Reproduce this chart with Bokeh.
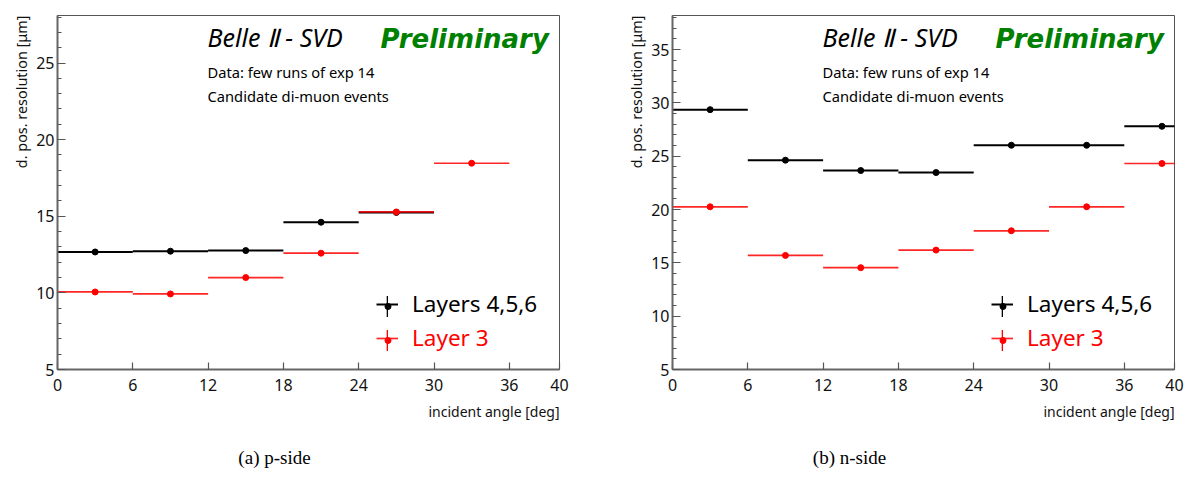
from bokeh.plotting import figure
from bokeh.models import Range1d, FixedTicker, Label, Legend, LegendItem, ColumnDataSource, Title
from bokeh.layouts import row, column
from bokeh.embed import file_html
from bokeh.resources import INLINE

# ---------------- data ----------------
BIN_WIDTH = 6
x_ticks = [0, 6, 12, 18, 24, 30, 36, 40]

# (a) p-side
p_black_lo = [0, 6, 12, 18, 24]
p_black_val = [12.67, 12.72, 12.76, 14.61, 15.25]
p_red_lo = [0, 6, 12, 18, 24, 30]
p_red_val = [10.06, 9.93, 11.00, 12.59, 15.28, 18.46]
p_yrange = (5, 28.1)
p_yticks = [5, 10, 15, 20, 25]

# (b) n-side
n_black_lo = [0, 6, 12, 18, 24, 30, 36]
n_black_val = [29.37, 24.63, 23.66, 23.47, 26.03, 26.03, 27.81]
n_red_lo = [0, 6, 12, 18, 24, 30, 36]
n_red_val = [20.26, 15.70, 14.55, 16.20, 18.01, 20.26, 24.32]
n_yrange = (5, 38.2)
n_yticks = [5, 10, 15, 20, 25, 30, 35]

series_labels = ["Layers 4,5,6", "Layer 3"]
series_colors = ["black", "red"]
captions = ["(a) p-side", "(b) n-side"]
ylabel = "d. pos. resolution [\u03bcm]"
xlabel = "incident angle [deg]"
header = "Belle \u2161 - SVD"
prelim = "Preliminary"
info = ["Data: few runs of exp 14", "Candidate di-muon events"]

FONT = "Noto Sans"
PLOT_H = 430


def src(lo, val):
    return ColumnDataSource(dict(
        lo=lo, hi=[v + BIN_WIDTH for v in lo],
        mid=[v + BIN_WIDTH / 2 for v in lo], val=val))


def panel(bl, bv, rl, rv, yr, yt, width, right_border):
    p = figure(width=width, height=PLOT_H, x_range=Range1d(0, 40), y_range=Range1d(*yr),
               output_backend="svg", toolbar_location=None,
               min_border_left=57, min_border_right=right_border,
               min_border_top=15, min_border_bottom=PLOT_H - 15 - 354)
    p.grid.visible = False
    p.outline_line_color = "#555555"
    p.outline_line_width = 1
    p.background_fill_color = "white"
    p.border_fill_color = "white"
    for ax in (p.xaxis[0], p.yaxis[0]):
        ax.axis_line_color = "#666666"
        ax.axis_line_width = 2
        ax.major_tick_line_color = "#555555"
        ax.minor_tick_line_color = "#555555"
        ax.major_tick_line_width = 1.2
        ax.major_label_text_font = FONT
        ax.major_label_text_font_size = "16px"
        ax.major_label_text_color = "#111111"
        ax.major_tick_out = 0
        ax.minor_tick_out = 0
    p.xaxis.ticker = FixedTicker(ticks=x_ticks, minor_ticks=[])
    p.xaxis.major_tick_in = 7
    p.xaxis.major_label_standoff = 9
    p.yaxis.ticker = FixedTicker(ticks=yt, minor_ticks=list(range(int(yr[0]), int(yr[1]) + 1)))
    p.yaxis.major_tick_in = 8
    p.yaxis.minor_tick_in = 4
    p.yaxis.major_label_standoff = 3

    common = dict(padding=0, margin=0, spacing=0, glyph_height=26, label_height=26,
                  label_standoff=14, label_text_font=FONT, label_text_font_size="22.5px",
                  border_line_alpha=0, background_fill_alpha=0)

    for lo, val, color, lw, alpha, label, ybot in [
            (bl, bv, series_colors[0], 2, 1.0, series_labels[0], 50),
            (rl, rv, series_colors[1], 1.7, 0.85, series_labels[1], 16)]:
        s = src(lo, val)
        seg = p.segment(x0="lo", x1="hi", y0="val", y1="val", source=s, line_color=color,
                        line_width=lw, line_alpha=alpha)
        p.scatter(x="mid", y="val", source=s, size=6, color=color)
        # legend keys only: zero-size glyphs on the same data (vertical error-bar stroke, small dot)
        vk = p.vbar(x="mid", top="val", bottom="val", width=0, source=s, fill_color=color, line_alpha=0)
        dk = p.scatter(x="mid", y="val", source=s, size=0, color=color)
        p.add_layout(Legend(items=[LegendItem(label=label, renderers=[seg])],
                            location=(319, ybot), glyph_width=22, label_text_color=color,
                            **common), "center")
        p.add_layout(Legend(items=[LegendItem(label=" ", renderers=[vk])],
                            location=(329, ybot), glyph_width=2, **common), "center")
        p.add_layout(Legend(items=[LegendItem(label=" ", renderers=[dk])],
                            location=(322.5, ybot), glyph_width=15, **common), "center")

    def lab(text, x, y, size, color="black", style="normal"):
        p.add_layout(Label(x=x, y=y, x_units="screen", y_units="screen", text=text,
                           text_font=FONT, text_font_size=size, text_color=color,
                           text_font_style=style, text_baseline="middle"))

    lab(header, 150, 333, "25px", style="italic")
    p.add_layout(Label(x=323, y=331, x_units="screen", y_units="screen", text=prelim,
                       text_font="DejaVu Sans", text_font_size="26px", text_color="#008000",
                       text_font_style="bold italic", text_baseline="middle"))
    lab(info[0], 150, 298, "14.7px")
    lab(info[1], 150, 274, "14.7px")

    p.add_layout(Title(text=ylabel, align="right", text_font=FONT, text_font_size="14.4px",
                       text_font_style="normal", text_color="#111111", standoff=5), "left")
    p.add_layout(Title(text=xlabel, align="right", text_font=FONT, text_font_size="14px",
                       text_font_style="normal", text_color="#111111", standoff=12), "below")
    return p


left = panel(p_black_lo, p_black_val, p_red_lo, p_red_val, p_yrange, p_yticks, 615, 56)
right = panel(n_black_lo, n_black_val, n_red_lo, n_red_val, n_yrange, n_yticks, 577, 18)

# caption strip
CAP_H = 480 - PLOT_H
cap = figure(width=1192, height=CAP_H, x_range=Range1d(0, 1192), y_range=Range1d(0, CAP_H),
             output_backend="svg", toolbar_location=None, min_border=0)
cap.axis.visible = False
cap.grid.visible = False
cap.outline_line_color = None
for txt, cx in zip(captions, [274, 849]):
    cap.add_layout(Label(x=cx, y=CAP_H - (457 - PLOT_H), x_units="screen", y_units="screen",
                         text=txt, text_font="Liberation Serif", text_font_size="19px",
                         text_align="center", text_baseline="middle", text_color="black"))

layout = column(row(left, right), cap)
open("out.html", "w").write(file_html(layout, INLINE))
